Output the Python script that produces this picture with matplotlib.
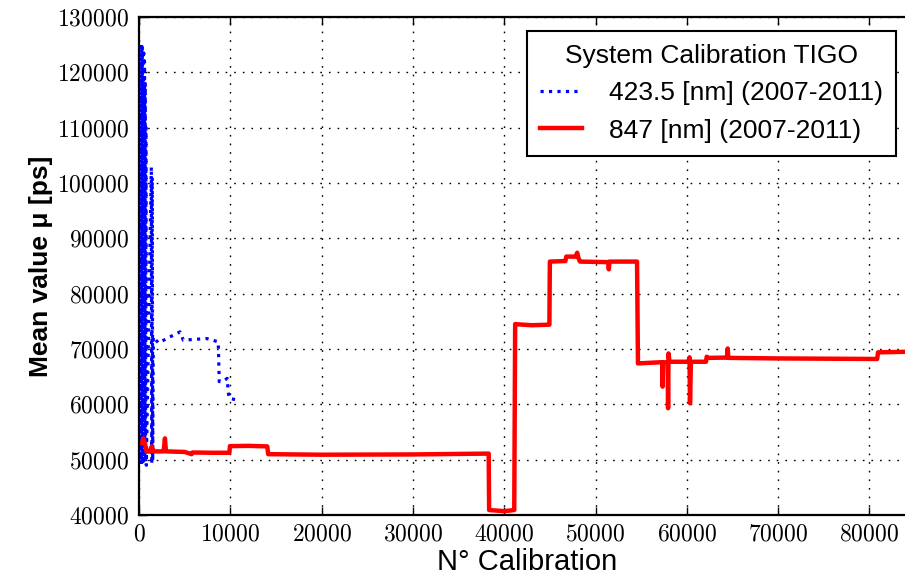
import matplotlib
matplotlib.use("Agg")
import matplotlib.pyplot as plt

# 423.5 nm (blue, dotted)
blue_x = [200, 240, 280, 320, 360, 400, 440, 480, 520, 560, 600, 640, 680, 720, 760, 800,
          1350, 1400, 1450, 1500,
          1570, 2120, 3760, 4490, 4850, 7400, 8680, 8790, 9410, 9660, 9770, 9880, 10690]
blue_y = [124800, 49200, 125000, 49500, 124500, 49000, 124000, 50000, 123500, 49300, 122000, 50500, 118000, 49500, 110000, 49000,
          102900, 49200, 101000, 49800,
          72200, 71100, 72500, 73100, 71600, 71900, 71300, 64100, 64400, 64700, 62300, 61100, 60800]

# 847 nm (red, solid)
red_x = [0, 300, 470, 600, 840, 1200, 1390, 1600, 2700, 2840, 2950, 5000, 5760, 5850, 8000, 9900,
         9960, 12000, 14050, 14150, 20000, 30000, 38300, 38350, 40000, 41100, 41200, 43000, 44950,
         45000, 46700, 46800, 47800, 48000, 48100, 48300, 51400, 51460, 51520, 54550, 54650, 57000,
         57300, 57350, 57400, 57900, 57950, 58000, 58100, 60200, 60300, 60350, 60450, 62100, 62180,
         62300, 64400, 64480, 64550, 70000, 80850, 80950, 84000]
red_y = [52900, 53000, 53850, 53200, 51450, 51500, 52400, 51500, 51500, 53850, 51500, 51400, 51000, 51300, 51250, 51250,
         52450, 52500, 52400, 51000, 50900, 50950, 51100, 40900, 40700, 40900, 74500, 74300, 74400,
         85800, 85900, 86700, 86700, 87400, 86600, 85800, 85700, 84400, 85800, 85800, 67400, 67600,
         67600, 63200, 67600, 67600, 59300, 69200, 67700, 67700, 68500, 60200, 67700, 67700, 68600,
         68400, 68450, 70100, 68400, 68300, 68200, 69400, 69500]

xticks = [0, 10000, 20000, 30000, 40000, 50000, 60000, 70000, 80000]
yticks = [40000, 50000, 60000, 70000, 80000, 90000, 100000, 110000, 120000, 130000]

plt.rcParams['axes.formatter.use_mathtext'] = True
plt.rcParams['font.family'] = ['Liberation Sans', 'DejaVu Sans']

fig = plt.figure(figsize=(9.05, 5.75), dpi=100)
# axes run a little past the right edge of the figure (cropped like the original)
ax = fig.add_axes([0.1536, 0.1043, 0.8575, 0.8661])

ax.plot(blue_x, blue_y, color='#0000ff', ls=':', lw=2.3, label='423.5 [nm] (2007-2011)')
ax.plot(red_x, red_y, color='#ff0000', ls='-', lw=3.2, label='847 [nm] (2007-2011)')

ax.set_xlim(0, 85000)
ax.set_ylim(40000, 130000)
ax.set_xticks(xticks)
ax.set_yticks(yticks)
ax.grid(True, color='black', ls=(0, (1.2, 5)), lw=1)

ax.tick_params(direction='in', top=True, right=True, length=6, width=1, labelsize=17)
ax.tick_params(axis='x', pad=6)
ax.tick_params(axis='y', pad=7)
for lab in ax.get_xticklabels() + ax.get_yticklabels():
    lab.set_fontfamily('cmr10')
for sp in ax.spines.values():
    sp.set_linewidth(1.6)

ax.set_xlabel('N° Calibration', fontsize=21, labelpad=2)
ax.set_ylabel('Mean value μ [ps]', fontsize=19, fontweight='bold', labelpad=3.5)

leg = ax.legend(title='System Calibration TIGO', loc='upper left',
                bbox_to_anchor=(527/905, 1 - 31/575), bbox_transform=fig.transFigure,
                fontsize=19, title_fontsize=19, fancybox=False, framealpha=1,
                edgecolor='black', borderaxespad=0, borderpad=0.5,
                handlelength=1.6, handletextpad=1.0, labelspacing=0.5)
leg.get_frame().set_linewidth(1.5)

fig.savefig('out.png', dpi=100)
